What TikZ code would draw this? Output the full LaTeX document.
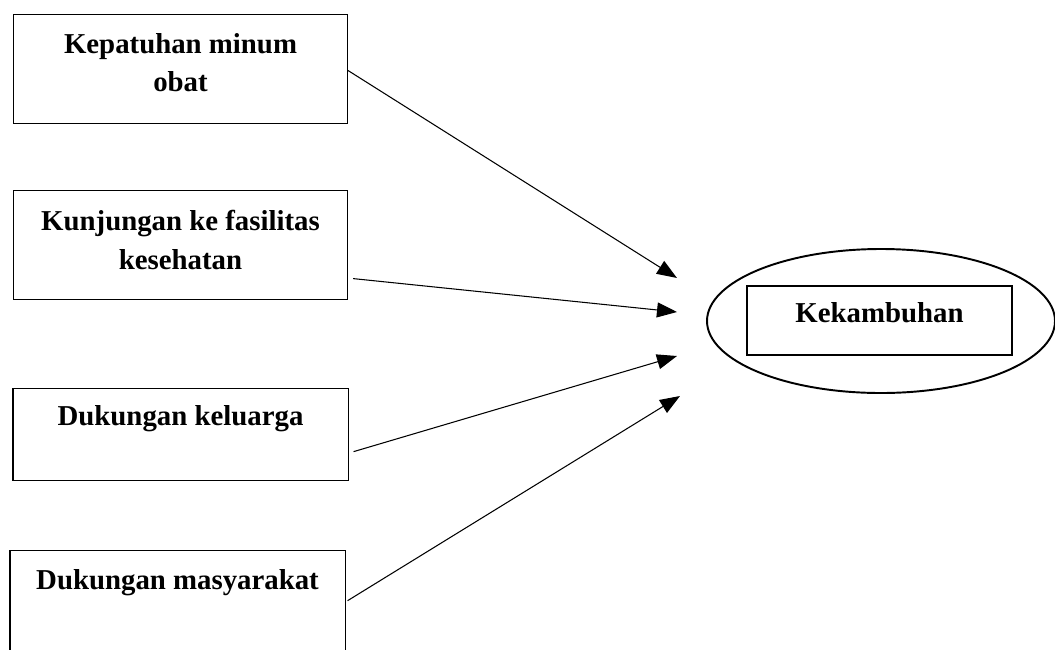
\documentclass[tikz,border=0pt]{standalone}
\usepackage{fontspec}
\setmainfont{Liberation Serif}
\usepackage{tikz}
\usetikzlibrary{shapes.geometric, positioning, calc, arrows.meta}

\begin{document}
\begin{tikzpicture}[
        box/.style={draw, line width=0.6pt, minimum width=6.68cm, inner sep=0pt},
        lbl/.style={font=\fontsize{16.4}{22}\selectfont\bfseries, align=center, inner sep=0pt},
        arr/.style={line width=0.6pt, -{Triangle[length=0.4cm, width=0.3cm]}},
        node distance=1.32cm
      ]
        \useasboundingbox (0,0) rectangle (21.1,-12.98);
        % factors on the left
        \node[box, minimum height=2.18cm, anchor=north west] (obat) at (0.26,-0.28) {};
        \node[box, minimum height=2.18cm, below=of obat] (faskes) {};
        \node[box, minimum width=6.7cm, minimum height=1.84cm, below=1.76cm of faskes] (keluarga) {};
        \node[box, minimum width=6.7cm, minimum height=2.26cm, below=1.38cm of keluarga, xshift=-0.06cm] (masy) {};
        \node[lbl] at ([yshift=-0.97cm]obat.north) {Kepatuhan minum\\obat};
        \node[lbl] at ([yshift=-1.0cm]faskes.north) {Kunjungan ke fasilitas\\kesehatan};
        \node[lbl] at ([yshift=-0.62cm]keluarga.north) {Dukungan keluarga};
        \node[lbl] at ([yshift=-0.66cm]masy.north) {Dukungan masyarakat};
        % outcome
        \node[draw, ellipse, line width=1.1pt, minimum width=6.96cm, minimum height=2.88cm] (elips) at (17.62,-6.42) {};
        \node[box, lbl, draw, minimum width=5.3cm, minimum height=1.38cm, text depth=0.32cm] (kambuh) at (17.59,-6.41) {Kekambuhan};
        % arrow ends
        \coordinate (t1) at (13.54,-5.56);
        \coordinate (t2) at (13.54,-6.24);
        \coordinate (t3) at (13.54,-7.12);
        \coordinate (t4) at (13.6,-7.92);
        \draw[arr] ([yshift=-0.03cm]obat.east) -- (t1);
        \draw[arr] ([shift={(0.1,-0.67)}]faskes.east) -- (t2);
        \draw[arr] ([shift={(0.1,-0.34)}]keluarga.east) -- (t3);
        \draw[arr] ([shift={(0.04,0.13)}]masy.east) -- (t4);
      \end{tikzpicture}
\end{document}
